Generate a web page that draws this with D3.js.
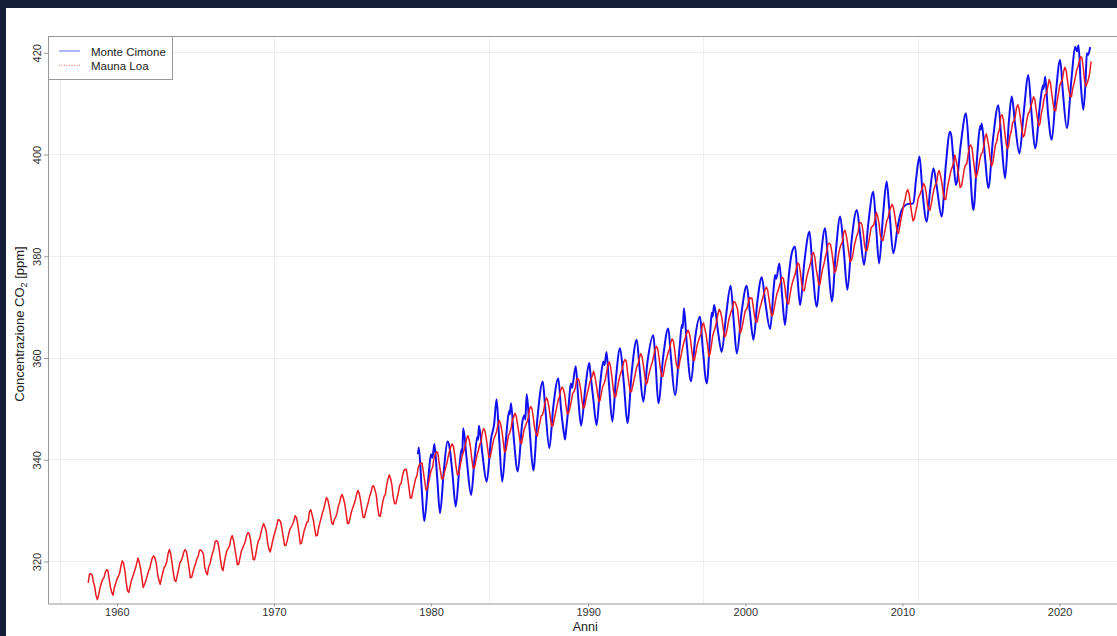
<!DOCTYPE html>
<html>
<head>
<meta charset="utf-8">
<script src="https://cdn.jsdelivr.net/npm/d3@7"></script>
<style>
  html, body { margin: 0; padding: 0; background: #141e37; }
  svg { display: block; }
  text { font-family: "Liberation Sans", Arial, Helvetica, sans-serif; }
</style>
</head>
<body>
<svg id="chart" width="1117" height="636"></svg>
<script>
// Mauna Loa monthly means (ppm), first value = March 1958
const maunaLoaStart = 1958 + 2 / 12;
const maunaLoaCO2 = [
  315.70, 317.45, 317.51, 317.24, 315.86, 314.93, 313.20, 312.43, 313.33, 314.67,
  315.62, 316.38, 316.71, 317.72, 318.29, 318.15, 316.54, 314.80, 313.84, 313.26, 314.80, 315.58,
  316.43, 316.97, 317.58, 319.02, 320.03, 319.59, 318.18, 315.91, 314.16, 313.83, 315.00, 316.19,
  316.93, 317.70, 318.54, 319.48, 320.58, 319.77, 318.57, 316.79, 314.80, 315.38, 316.10, 317.01,
  317.94, 318.56, 319.68, 320.63, 321.01, 320.55, 319.58, 317.40, 316.26, 315.42, 316.69, 317.69,
  318.74, 319.08, 319.86, 321.39, 322.25, 321.47, 319.74, 317.77, 316.21, 315.99, 317.12, 318.31,
  319.57, 320.07, 320.73, 321.77, 322.25, 321.89, 320.44, 318.70, 316.70, 316.79, 317.79, 318.71,
  319.44, 320.44, 320.89, 322.13, 322.16, 321.87, 321.39, 318.81, 317.81, 317.30, 318.87, 319.42,
  320.62, 321.59, 322.39, 323.87, 324.01, 323.75, 322.39, 320.37, 318.64, 318.10, 319.79, 321.08,
  322.07, 322.50, 323.04, 324.42, 325.00, 324.09, 322.54, 320.92, 319.25, 319.39, 320.73, 321.96,
  322.57, 323.15, 323.89, 325.02, 325.57, 325.36, 324.14, 322.11, 320.33, 320.25, 321.32, 322.89,
  324.00, 324.42, 325.64, 326.66, 327.38, 326.70, 325.89, 323.67, 322.38, 321.78, 322.85, 324.12,
  325.06, 325.98, 326.93, 328.13, 328.08, 327.67, 326.34, 324.69, 323.10, 323.07, 324.01, 325.13,
  326.17, 326.68, 327.18, 327.78, 328.92, 328.57, 327.34, 325.46, 323.36, 323.57, 324.80, 326.01,
  326.77, 327.63, 327.75, 329.72, 330.07, 329.09, 328.05, 326.32, 324.93, 325.06, 326.50, 327.55,
  328.54, 329.56, 330.30, 331.50, 332.48, 332.07, 330.87, 329.31, 327.51, 327.18, 328.16, 328.64,
  329.35, 330.71, 331.48, 332.65, 333.09, 332.25, 331.18, 329.40, 327.44, 327.37, 328.46, 329.58,
  330.40, 331.10, 331.93, 333.09, 333.86, 333.29, 331.90, 330.14, 328.60, 328.57, 329.67, 330.68,
  331.59, 332.75, 333.52, 334.64, 334.77, 334.00, 333.06, 330.68, 328.95, 328.75, 330.15, 331.62,
  332.66, 333.13, 334.95, 336.13, 336.93, 336.17, 334.88, 332.56, 331.29, 331.27, 332.41, 333.60,
  334.95, 335.25, 336.66, 337.69, 338.03, 338.01, 336.41, 334.41, 332.37, 332.41, 333.75, 334.90,
  336.14, 336.69, 338.27, 338.95, 339.21, 339.26, 337.54, 335.75, 333.98, 334.19, 335.31, 336.81,
  337.90, 338.34, 340.01, 340.93, 341.48, 341.33, 339.40, 337.70, 336.19, 336.15, 337.27, 338.32,
  339.29, 340.55, 341.62, 342.53, 343.03, 342.54, 340.78, 338.44, 336.95, 337.08, 338.58, 339.88,
  340.96, 341.73, 342.81, 343.97, 344.63, 343.79, 342.32, 340.09, 338.28, 338.29, 339.60, 340.90,
  341.68, 342.90, 343.33, 345.25, 346.03, 345.63, 344.19, 342.27, 340.35, 340.38, 341.59, 343.05,
  344.10, 344.79, 345.52, 346.84, 347.63, 346.98, 345.53, 343.55, 341.40, 341.67, 343.10, 344.70,
  345.21, 346.16, 347.74, 348.34, 349.06, 348.38, 346.72, 345.02, 343.27, 343.13, 344.49, 345.88,
  346.56, 347.28, 348.01, 349.77, 350.38, 349.93, 348.16, 346.08, 345.22, 344.51, 345.93, 347.22,
  348.52, 348.73, 349.73, 351.31, 352.09, 351.53, 350.11, 348.08, 346.52, 346.59, 347.96, 349.16,
  350.39, 351.64, 352.41, 353.69, 354.21, 353.72, 352.69, 350.40, 348.92, 349.13, 350.20, 351.41,
  352.91, 353.27, 353.96, 355.64, 355.86, 355.37, 353.99, 351.81, 350.05, 350.25, 351.49, 352.85,
  353.80, 355.04, 355.73, 356.32, 357.32, 356.34, 354.84, 353.01, 351.31, 351.62, 353.07, 354.33,
  354.84, 355.73, 357.23, 358.66, 359.13, 358.13, 356.19, 353.85, 352.25, 352.35, 353.81, 355.12,
  356.25, 357.11, 357.86, 359.09, 359.59, 359.33, 357.01, 354.94, 353.23, 353.33, 354.55, 355.70,
  356.96, 358.21, 358.75, 359.93, 360.76, 360.20, 358.56, 356.62, 354.74, 355.02, 356.42, 357.47,
  358.41, 359.22, 360.40, 361.72, 362.19, 361.66, 359.99, 357.91, 356.30, 356.32, 357.68, 359.13,
  360.03, 361.03, 361.65, 363.00, 363.65, 363.16, 361.29, 359.05, 357.98, 357.89, 359.47, 360.63,
  361.96, 363.00, 363.86, 364.66, 365.37, 364.92, 363.64, 361.39, 359.55, 359.48, 360.76, 362.30,
  363.18, 364.00, 364.57, 366.35, 366.79, 365.62, 364.47, 362.51, 360.19, 360.77, 362.43, 364.28,
  365.18, 365.98, 367.13, 368.61, 369.49, 368.95, 367.74, 365.79, 364.01, 364.35, 365.52, 367.08,
  368.12, 368.98, 369.60, 370.99, 370.90, 370.30, 369.45, 366.90, 364.81, 365.37, 366.72, 368.10,
  369.29, 369.54, 370.60, 371.82, 371.58, 371.70, 369.86, 368.13, 367.00, 367.03, 368.37, 369.67,
  370.59, 371.51, 372.43, 373.37, 373.85, 373.22, 371.50, 369.61, 368.18, 368.45, 369.76, 371.24,
  372.53, 373.20, 374.12, 375.02, 375.76, 375.52, 374.01, 371.85, 370.75, 370.55, 372.25, 373.79,
  374.88, 375.64, 376.45, 377.73, 378.60, 378.28, 376.70, 374.38, 373.17, 373.15, 374.66, 375.99,
  377.00, 377.87, 378.88, 380.35, 380.62, 379.69, 377.47, 376.01, 374.25, 374.46, 376.16, 377.51,
  378.46, 379.73, 380.77, 382.29, 382.45, 382.21, 380.74, 378.74, 376.70, 377.00, 378.35, 380.11,
  381.38, 382.19, 382.67, 384.61, 385.03, 384.05, 382.46, 380.41, 378.85, 379.13, 380.15, 381.82,
  382.89, 383.90, 384.58, 386.50, 386.56, 386.10, 384.50, 381.99, 380.96, 381.12, 382.45, 383.95,
  385.52, 385.82, 386.03, 387.21, 388.54, 387.76, 386.36, 384.09, 383.18, 382.99, 384.19, 385.56,
  386.94, 387.48, 388.82, 389.55, 390.14, 389.48, 388.03, 386.11, 384.74, 384.43, 386.02, 387.42,
  388.71, 390.20, 391.17, 392.46, 393.00, 392.15, 390.20, 388.35, 386.85, 387.24, 388.67, 389.79,
  391.33, 391.86, 392.60, 393.25, 394.19, 393.74, 392.51, 390.13, 389.08, 389.00, 390.28, 391.86,
  393.12, 393.86, 394.40, 396.18, 396.74, 395.71, 394.36, 392.39, 391.11, 391.05, 392.98, 394.34,
  395.55, 396.80, 397.43, 398.41, 399.78, 398.60, 397.32, 395.20, 393.45, 393.70, 395.16, 396.84,
  397.85, 398.01, 399.77, 401.38, 401.78, 401.25, 399.10, 397.03, 395.38, 396.03, 397.28, 398.91,
  399.98, 400.28, 401.54, 403.28, 403.96, 402.80, 401.31, 398.93, 397.63, 398.29, 400.16, 401.85,
  402.52, 404.04, 404.83, 407.42, 407.70, 406.81, 404.39, 402.25, 401.03, 401.57, 403.53, 404.42,
  406.17, 406.46, 407.22, 409.04, 409.69, 408.88, 407.12, 405.13, 403.37, 403.63, 405.12, 406.81,
  407.96, 408.32, 409.41, 410.24, 411.24, 410.79, 408.71, 406.99, 405.51, 406.00, 408.02, 409.07,
  410.83, 411.75, 411.97, 413.33, 414.64, 413.92, 411.77, 409.95, 408.54, 408.53, 410.27, 411.76,
  413.39, 414.11, 414.51, 416.21, 417.07, 416.38, 414.38, 412.55, 411.29, 411.28, 412.89, 413.89,
  415.15, 416.47, 417.16, 418.24, 419.13, 418.94, 416.96, 414.47, 413.30, 413.93, 414.74, 416.07,
  418.19
];

// Monte Cimone: decimal year and concentration (ppm)
const cimoneTime = [
  1979.20, 1979.25, 1979.42, 1979.60, 1979.85, 1980.03, 1980.12, 1980.24, 1980.42, 1980.60,
  1980.85, 1981.08, 1981.20, 1981.40, 1981.60, 1981.85, 1981.98, 1982.02, 1982.08, 1982.30,
  1982.58, 1982.80, 1982.98, 1983.02, 1983.08, 1983.30, 1983.57, 1983.85, 1984.05, 1984.20,
  1984.35, 1984.56, 1984.80, 1985.00, 1985.04, 1985.12, 1985.30, 1985.55, 1985.85, 1986.00,
  1986.03, 1986.12, 1986.30, 1986.54, 1986.80, 1987.14, 1987.30, 1987.56, 1987.80, 1988.13,
  1988.30, 1988.52, 1988.56, 1988.62, 1988.80, 1988.93, 1989.00, 1989.24, 1989.40, 1989.58,
  1989.85, 1990.10, 1990.15, 1990.35, 1990.57, 1990.80, 1991.00, 1991.07, 1991.20, 1991.35,
  1991.57, 1991.80, 1992.06, 1992.30, 1992.53, 1992.80, 1993.12, 1993.30, 1993.54, 1993.80,
  1994.18, 1994.32, 1994.50, 1994.80, 1995.13, 1995.30, 1995.56, 1995.85, 1996.00, 1996.05,
  1996.13, 1996.30, 1996.58, 1996.85, 1997.15, 1997.32, 1997.58, 1997.82, 1997.90, 1997.95,
  1998.05, 1998.30, 1998.53, 1998.80, 1999.10, 1999.30, 1999.49, 1999.80, 2000.12, 2000.32,
  2000.55, 2000.80, 2001.08, 2001.30, 2001.61, 2001.85, 2001.93, 2002.00, 2002.20, 2002.38,
  2002.56, 2002.80, 2002.99, 2003.20, 2003.35, 2003.52, 2003.80, 2004.12, 2004.30, 2004.58,
  2004.85, 2005.11, 2005.30, 2005.54, 2005.80, 2006.07, 2006.30, 2006.53, 2006.80, 2007.13,
  2007.35, 2007.59, 2007.85, 2008.18, 2008.35, 2008.55, 2008.80, 2009.03, 2009.20, 2009.45,
  2009.75, 2009.99, 2010.40, 2010.73, 2010.90, 2011.12, 2011.30, 2011.58, 2011.80, 2012.01,
  2012.20, 2012.53, 2012.80, 2013.06, 2013.15, 2013.25, 2013.44, 2013.75, 2014.08, 2014.30,
  2014.55, 2014.80, 2014.98, 2015.02, 2015.08, 2015.30, 2015.50, 2015.80, 2016.14, 2016.35,
  2016.57, 2016.80, 2016.99, 2017.20, 2017.48, 2017.75, 2018.05, 2018.25, 2018.48, 2018.80,
  2018.98, 2019.02, 2019.12, 2019.30, 2019.54, 2019.80, 2020.07, 2020.25, 2020.50, 2020.80,
  2021.03, 2021.15, 2021.24, 2021.38, 2021.55, 2021.70, 2021.77, 2021.85, 2021.98
];
const cimoneCO2 = [
  341.0, 342.3, 335.0, 327.8, 336.0, 341.0, 340.3, 343.0, 336.5, 329.4,
  338.0, 343.5, 342.5, 337.0, 330.7, 339.0, 342.0, 341.3, 346.1, 340.0,
  333.0, 340.0, 344.5, 343.8, 346.6, 341.0, 335.6, 344.0, 347.0, 351.8,
  345.0, 335.6, 344.0, 349.5, 348.8, 351.0, 344.0, 337.6, 347.5, 348.7,
  347.8, 352.8, 346.0, 337.8, 348.0, 355.3, 350.0, 342.2, 350.0, 355.9,
  350.0, 344.5, 343.9, 345.5, 351.0, 354.9, 354.0, 358.3, 352.0, 346.6,
  354.0, 358.9, 357.6, 352.0, 346.7, 355.0, 359.2, 358.5, 361.1, 355.0,
  347.4, 356.0, 361.8, 355.0, 347.1, 357.0, 363.5, 358.0, 351.3, 359.0,
  364.4, 359.0, 351.0, 360.0, 365.7, 360.0, 352.6, 362.0, 366.5, 365.8,
  369.7, 363.0, 355.3, 364.0, 368.0, 362.0, 354.9, 366.0, 368.8, 368.0,
  370.3, 365.0, 361.1, 368.0, 374.1, 367.0, 360.8, 369.0, 374.1, 369.0,
  363.5, 371.0, 375.8, 371.0, 365.6, 374.0, 376.2, 375.5, 378.5, 372.0,
  366.4, 376.0, 380.5, 381.8, 376.0, 370.3, 379.0, 384.7, 378.0, 370.0,
  380.0, 385.4, 379.0, 371.0, 381.0, 387.7, 381.0, 373.3, 383.0, 389.0,
  384.0, 378.2, 386.0, 392.6, 386.0, 378.5, 388.0, 394.6, 389.0, 380.5,
  386.0, 389.0, 390.2, 390.3, 395.0, 399.5, 393.0, 386.7, 393.0, 397.2,
  394.0, 387.7, 398.0, 404.4, 403.5, 400.0, 393.9, 402.0, 408.0, 399.0,
  389.0, 400.0, 405.5, 404.8, 406.0, 399.0, 393.3, 403.0, 409.6, 402.0,
  395.2, 406.0, 411.3, 406.0, 400.1, 408.0, 415.5, 408.0, 401.1, 410.0,
  413.5, 412.8, 415.2, 408.0, 402.8, 412.0, 418.5, 412.0, 405.1, 415.0,
  421.1, 420.2, 421.4, 414.0, 408.7, 415.0, 419.8, 419.5, 421.0
];

const xTicks = [1960, 1970, 1980, 1990, 2000, 2010, 2020];
const yTicks = [320, 340, 360, 380, 400, 420];
const gridYears = [1956.4, 1970.05, 1983.7, 1997.35, 2011.0];
const seriesNames = ["Monte Cimone", "Mauna Loa"];
const seriesColors = ["#1010f2", "#ea1a22"];

const W = 1117, H = 636;
const plot = { left: 48, top: 36, right: 1130.5, bottom: 603.5 };

const svg = d3.select("#chart");
svg.append("rect").attr("width", W).attr("height", H).attr("fill", "#141e37");
svg.append("rect").attr("x", 6).attr("y", 8).attr("width", W - 6).attr("height", H - 8).attr("fill", "#ffffff");

const x = d3.scaleLinear().domain([1955.65, 2024.55]).range([plot.left, plot.right]);
const y = d3.scaleLinear().domain([311.65, 423.2]).range([plot.bottom, plot.top]);

svg.append("defs").append("clipPath").attr("id", "plotClip")
  .append("rect").attr("x", plot.left).attr("y", plot.top)
  .attr("width", plot.right - plot.left).attr("height", plot.bottom - plot.top);

// light grid
const grid = svg.append("g").attr("stroke", "#efefef").attr("stroke-width", 1);
grid.selectAll("line.h").data(yTicks).join("line").attr("class", "h")
  .attr("x1", plot.left).attr("x2", plot.right)
  .attr("y1", d => Math.round(y(d)) + 0.5).attr("y2", d => Math.round(y(d)) + 0.5);
grid.selectAll("line.v").data(gridYears).join("line").attr("class", "v")
  .attr("y1", plot.top).attr("y2", plot.bottom)
  .attr("x1", d => Math.round(x(d)) + 0.5).attr("x2", d => Math.round(x(d)) + 0.5);

// series
const lines = svg.append("g").attr("clip-path", "url(#plotClip)").attr("fill", "none");

const cimone = cimoneTime.map((t, i) => [t, cimoneCO2[i]]);
lines.append("path").datum(cimone)
  .attr("stroke", seriesColors[0]).attr("stroke-width", 2).attr("stroke-linejoin", "round")
  .attr("d", d3.line().x(d => x(d[0])).y(d => y(d[1])).curve(d3.curveMonotoneX));

const mlo = maunaLoaCO2.map((v, i) => [maunaLoaStart + (i + 0.5) / 12, v]);
lines.append("path").datum(mlo)
  .attr("stroke", seriesColors[1]).attr("stroke-width", 1.5).attr("stroke-linejoin", "round")
  .attr("d", d3.line().x(d => x(d[0])).y(d => y(d[1])));

// frame
svg.append("rect").attr("x", plot.left + 0.5).attr("y", plot.top + 0.5)
  .attr("width", plot.right - plot.left).attr("height", plot.bottom - plot.top)
  .attr("fill", "none").attr("stroke", "#999").attr("stroke-width", 1);

// x axis
const xAxis = svg.append("g").attr("transform", `translate(0.5,${plot.bottom})`)
  .call(d3.axisBottom(x).tickValues(xTicks).tickFormat(d3.format("d")).tickSize(3).tickPadding(2));
xAxis.select(".domain").remove();
xAxis.selectAll("line").attr("stroke", "#999");
xAxis.selectAll("text").attr("fill", "#333").style("font-size", "11px");

// y axis with vertical labels
const yAxis = svg.append("g").attr("transform", `translate(${plot.left},0.5)`)
  .call(d3.axisLeft(y).tickValues(yTicks).tickFormat(d3.format("d")).tickSize(4));
yAxis.select(".domain").remove();
yAxis.selectAll("line").attr("stroke", "#999");
yAxis.selectAll("text")
  .attr("fill", "#333").style("font-size", "11px")
  .attr("text-anchor", "middle")
  .attr("x", 0).attr("y", -7).attr("dy", null)
  .attr("transform", "rotate(-90)");

// axis titles
svg.append("text")
  .attr("x", (plot.left + plot.right) / 2 - 4).attr("y", 631)
  .attr("text-anchor", "middle").attr("fill", "#222").style("font-size", "12.5px")
  .text("Anni");

const yTitle = svg.append("text")
  .attr("transform", `translate(24,324) rotate(-90)`)
  .attr("text-anchor", "middle").attr("fill", "#222").style("font-size", "13px");
yTitle.append("tspan").text("Concentrazione CO");
yTitle.append("tspan").attr("dy", 3).style("font-size", "9px").text("2");
yTitle.append("tspan").attr("dy", -3).text(" [ppm]");

// legend
const legend = svg.append("g");
legend.append("rect").attr("x", plot.left + 0.5).attr("y", plot.top + 0.5)
  .attr("width", 124).attr("height", 43)
  .attr("fill", "#fff").attr("stroke", "#999");
const rows = legend.selectAll("g.row").data(seriesNames).join("g").attr("class", "row")
  .attr("transform", (d, i) => `translate(0,${51 + i * 14.3})`);
rows.append("line").attr("x1", 59).attr("x2", 80).attr("y1", 0).attr("y2", 0)
  .attr("stroke", (d, i) => seriesColors[i]).attr("stroke-width", 0.8)
  .attr("stroke-opacity", 0.8)
  .attr("stroke-dasharray", (d, i) => i === 1 ? "1,1.5" : null);
rows.append("text").attr("x", 91).attr("y", 4.5)
  .attr("fill", "#222").style("font-size", "11.5px").text(d => d);
</script>
</body>
</html>
